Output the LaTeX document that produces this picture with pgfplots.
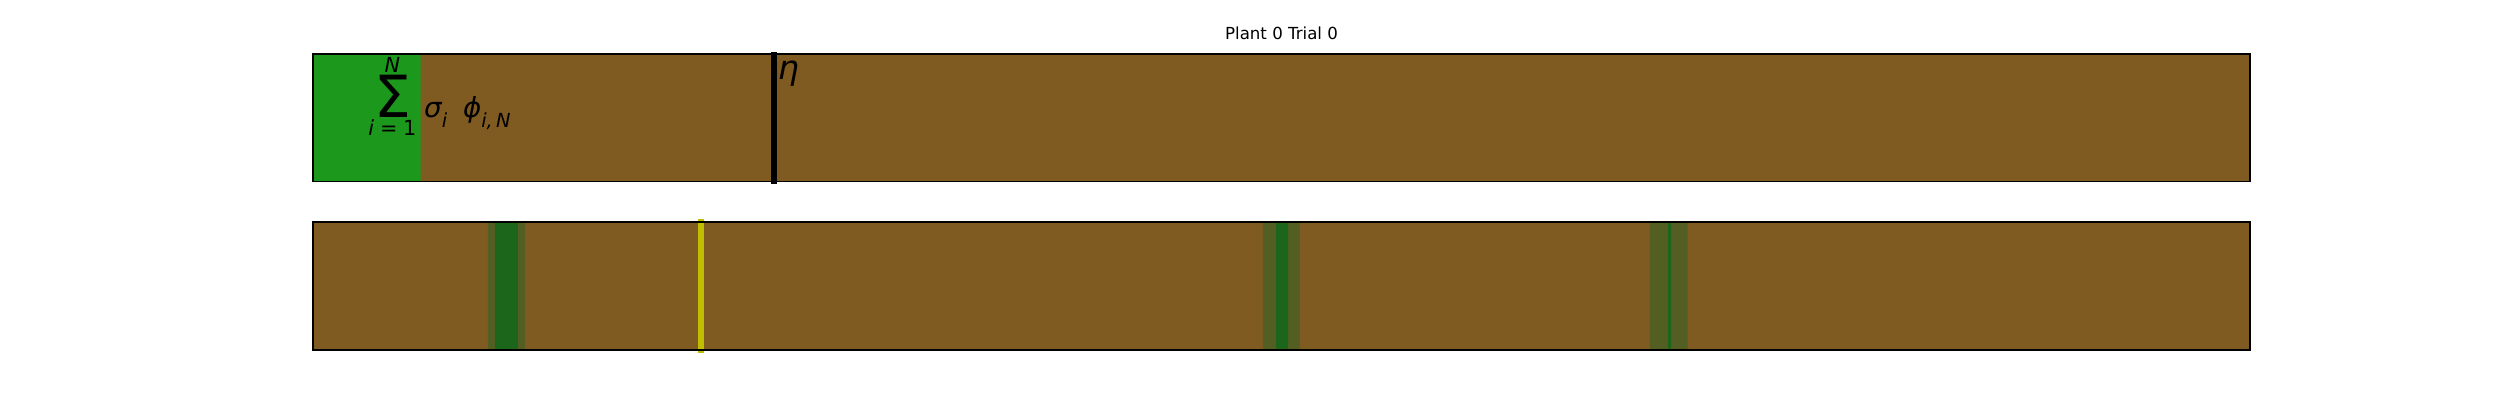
\documentclass[border=0pt]{standalone}
\usepackage{pgfplots}
\pgfplotsset{compat=1.18}
\usepackage{fontspec}
\setmainfont{DejaVu Sans}
\definecolor{soil}{HTML}{7F5A21}
\definecolor{leaf}{HTML}{1C991C}
\definecolor{darkleaf}{HTML}{1B661B}
\definecolor{olivebd}{HTML}{535E22}
\definecolor{myyellow}{HTML}{BFBF00}
\newcommand{\fs}[1]{\fontsize{#1}{#1}\selectfont}
\begin{document}
\begin{tikzpicture}
\useasboundingbox (0,0) rectangle (25in,4in);
\pgfplotsset{strip/.style={scale only axis, width=19.37in, xmin=0, xmax=100, ymin=0, ymax=1,
  ticks=none, axis background/.style={fill=soil}, axis line style={line width=1pt, black},
  axis on top, clip=false, anchor=south west}}
\node[anchor=base, inner sep=0] at (12.815in,3.60in) {\fs{12}Plant 0 Trial 0};
% top strip
\begin{axis}[strip, at={(3.13in,2.183in)}, height=1.277in]
\addplot[fill=leaf, draw=none] coordinates {(0,0) (5.56,0) (5.56,1) (0,1) (0,0)};
\addplot[black, line width=4pt] coordinates {(23.80,-0.018) (23.80,1.018)};
\node[anchor=base west, inner sep=0] at (axis cs:23.98,0.80) {\fs{24}\itshape η};
\node[anchor=base west, inner sep=0] at (axis cs:2.85,0.504) {$\displaystyle
  \mathop{\hbox{\fs{42}Σ}}\limits^{\hbox{\fs{15}\itshape N}}_{\hbox{\fs{15}\itshape i\upshape\;=\;1}}
  \hskip 4pt\hbox{\fs{20}\itshape σ}_{\hbox{\fs{14}\itshape i}}\hskip 11pt
  \hbox{\fs{20}\itshape ϕ}_{\hbox{\fs{14}\itshape i,\,N}}$};
\end{axis}
% bottom strip
\begin{axis}[strip, at={(3.13in,0.50in)}, height=1.28in]
\addplot[fill=olivebd, draw=none] coordinates {(9.03,0) (10.94,0) (10.94,1) (9.03,1) (9.03,0)};
\addplot[fill=olivebd, draw=none] coordinates {(49.04,0) (50.95,0) (50.95,1) (49.04,1) (49.04,0)};
\addplot[fill=olivebd, draw=none] coordinates {(69.02,0) (70.97,0) (70.97,1) (69.02,1) (69.02,0)};
\addplot[fill=darkleaf, draw=none] coordinates {(9.40,0) (10.58,0) (10.58,1) (9.40,1) (9.40,0)};
\addplot[fill=darkleaf, draw=none] coordinates {(49.72,0) (50.34,0) (50.34,1) (49.72,1) (49.72,0)};
\addplot[fill=darkleaf, draw=none] coordinates {(69.95,0) (70.12,0) (70.12,1) (69.95,1) (69.95,0)};
\addplot[myyellow, line width=4pt] coordinates {(20.04,-0.02) (20.04,1.02)};
\end{axis}
\end{tikzpicture}
\end{document}
